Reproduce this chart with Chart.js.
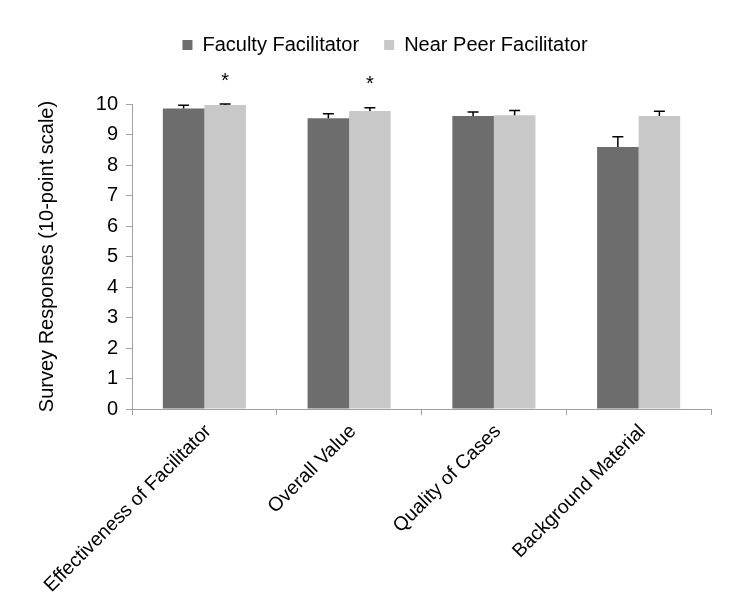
<!DOCTYPE html>
<html><head><meta charset="utf-8">
<script src="https://cdn.jsdelivr.net/npm/chart.js@4.4.0/dist/chart.umd.min.js"></script>
<style>html,body{margin:0;padding:0;background:#fff}#wrap{width:730px;height:613px}</style>
</head><body><div id="wrap"><canvas id="c" width="730" height="613"></canvas></div>
<script>
const categories = ["Effectiveness of Facilitator", "Overall Value", "Quality of Cases", "Background Material"];
const facultyValues = [9.85, 9.53, 9.61, 8.59];
const facultyErrors = [0.11, 0.15, 0.13, 0.34];
const peerValues = [9.97, 9.77, 9.63, 9.61];
const peerErrors = [0.03, 0.11, 0.16, 0.15];
const peerSignificant = [true, true, false, false];
const yTicks = [0,1,2,3,4,5,6,7,8,9,10];

const FONT = '"Liberation Sans", Arial, sans-serif';

const errorBars = {
  id: 'errorBars',
  afterDatasetsDraw(chart) {
    const ctx = chart.ctx, y = chart.scales.y;
    const errs = [facultyErrors, peerErrors];
    chart.data.datasets.forEach((ds, di) => {
      const meta = chart.getDatasetMeta(di);
      meta.data.forEach((bar, i) => {
        const top = y.getPixelForValue(ds.data[i] + errs[di][i]);
        const base = bar.y;
        ctx.save();
        ctx.strokeStyle = '#000';
        ctx.lineWidth = 1.5;
        ctx.beginPath();
        ctx.moveTo(bar.x, base);
        ctx.lineTo(bar.x, top);
        ctx.moveTo(bar.x - 5.5, top);
        ctx.lineTo(bar.x + 5.5, top);
        ctx.stroke();
        if (di === 1 && peerSignificant[i]) {
          ctx.fillStyle = '#000';
          ctx.font = '20px ' + FONT;
          ctx.textAlign = 'center';
          ctx.textBaseline = 'middle';
          ctx.fillText('*', bar.x, top - 23);
        }
        ctx.restore();
      });
    });
  }
};

const legendSpacing = {
  id: 'legendSpacing',
  beforeInit(chart) {
    const lg = chart.legend;
    const orig = lg.fit;
    lg.fit = function () { orig.call(this); this.height = 94; };
  },
  afterLayout(chart) {
    chart.legend.left += 14;
    chart.legend.right += 14;
  }
};

new Chart(document.getElementById('c'), {
  type: 'bar',
  data: {
    labels: categories,
    datasets: [
      { label: 'Faculty Facilitator', data: facultyValues, backgroundColor: '#6d6d6d', categoryPercentage: 0.574, barPercentage: 1.0 },
      { label: 'Near Peer Facilitator', data: peerValues, backgroundColor: '#c8c8c8', categoryPercentage: 0.574, barPercentage: 1.0 }
    ]
  },
  options: {
    responsive: false,
    animation: false,
    layout: { padding: { top: 10, left: 31, right: 19, bottom: 0 } },
    plugins: {
      legend: {
        position: 'top',
        labels: { boxWidth: 10, boxHeight: 10, color: '#000', font: { size: 20, family: FONT }, padding: 25 }
      },
      tooltip: { enabled: false }
    },
    scales: {
      x: {
        afterFit(scale) { scale.height = 204; },
        grid: { display: true, offset: true, drawOnChartArea: false, color: '#a0a0a0', tickLength: 6 },
        border: { color: '#a0a0a0' },
        ticks: { color: '#000', maxRotation: 45, minRotation: 45, labelOffset: 4, padding: 5, font: { size: 19.5, family: FONT } }
      },
      y: {
        min: 0, max: 10,
        afterFit(scale) { scale.width = 101; },
        afterBuildTicks(scale) { scale.ticks = yTicks.map(v => ({ value: v })); },
        grid: { display: true, drawOnChartArea: false, color: '#a0a0a0', tickLength: 6 },
        border: { color: '#a0a0a0' },
        ticks: { color: '#000', padding: 8, font: { size: 20, family: FONT } },
        title: { display: true, text: 'Survey Responses (10-point scale)', color: '#000', padding: { top: 4, bottom: 4 }, font: { size: 20, family: FONT } }
      }
    }
  },
  plugins: [errorBars, legendSpacing]
});
</script></body></html>
